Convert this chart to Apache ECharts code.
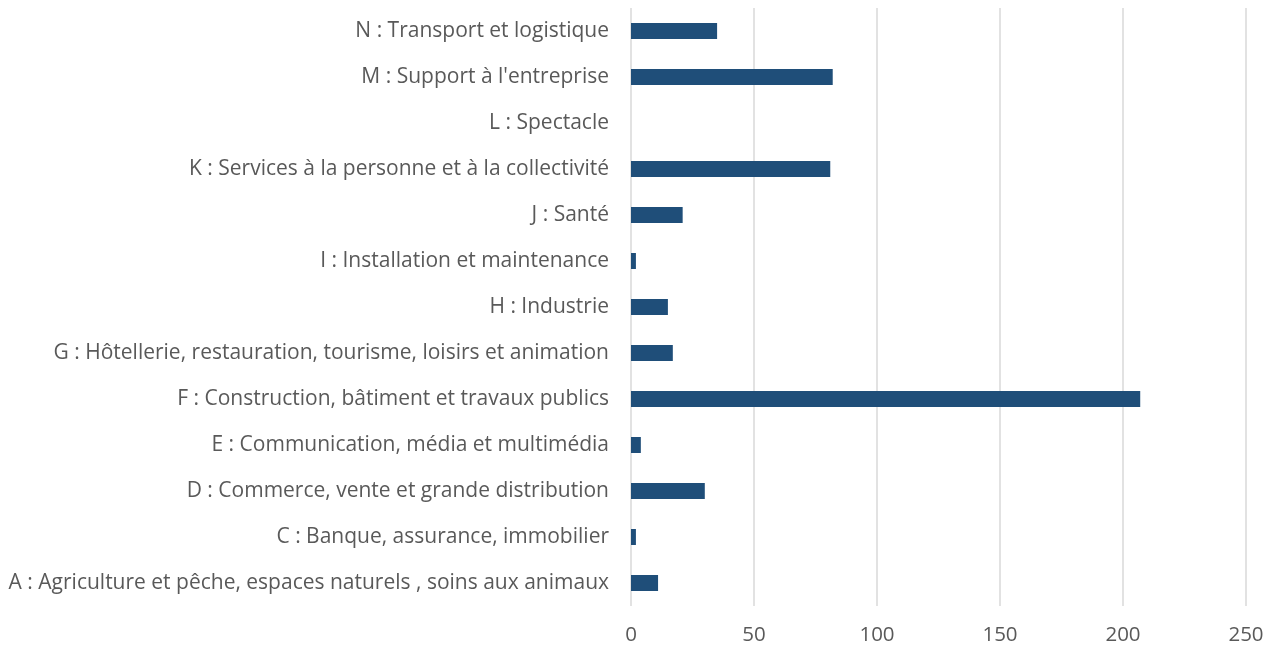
<!DOCTYPE html>
<html>
<head>
<meta charset="utf-8">
<script src="https://cdn.jsdelivr.net/npm/echarts@6/dist/echarts.min.js"></script>
<style>
  html, body { margin: 0; padding: 0; background: #fff; }
  #chart { width: 1280px; height: 649px; }
</style>
</head>
<body>
<div id="chart"></div>
<script>
const categories = [
    'A : Agriculture et pêche, espaces naturels , soins aux animaux',
    'C : Banque, assurance, immobilier',
    'D : Commerce, vente et grande distribution',
    'E : Communication, média et multimédia',
    'F : Construction, bâtiment et travaux publics',
    'G : Hôtellerie, restauration, tourisme, loisirs et animation',
    'H : Industrie',
    'I : Installation et maintenance',
    'J : Santé',
    'K : Services à la personne et à la collectivité',
    'L : Spectacle',
    "M : Support à l'entreprise",
    'N : Transport et logistique'
];
const values = [11, 2, 30, 4, 207, 17, 15, 2, 21, 81, 0, 82, 35];

const chart = echarts.init(document.getElementById('chart'), null, { renderer: 'canvas' });

const option = {
    animation: false,
    grid: {
        left: 631,
        right: 34,
        top: 8,
        bottom: 43,
        containLabel: false
    },
    xAxis: {
        type: 'value',
        min: 0,
        max: 250,
        interval: 50,
        axisLine: { show: false },
        axisTick: { show: false },
        axisLabel: {
            color: '#595959',
            fontFamily: 'Open Sans',
            fontSize: 20.5,
            margin: 19
        },
        splitLine: { lineStyle: { color: '#d9d9d9', width: 1.5 } }
    },
    yAxis: {
        type: 'category',
        data: categories,
        axisLine: { show: false },
        axisTick: { show: false },
        axisLabel: {
            color: '#595959',
            fontFamily: 'Open Sans',
            fontSize: 21,
            margin: 22
        }
    },
    series: [
        {
            type: 'bar',
            data: values,
            barWidth: 16,
            itemStyle: { color: '#1f4e79' }
        }
    ]
};

chart.setOption(option);
</script>
</body>
</html>
